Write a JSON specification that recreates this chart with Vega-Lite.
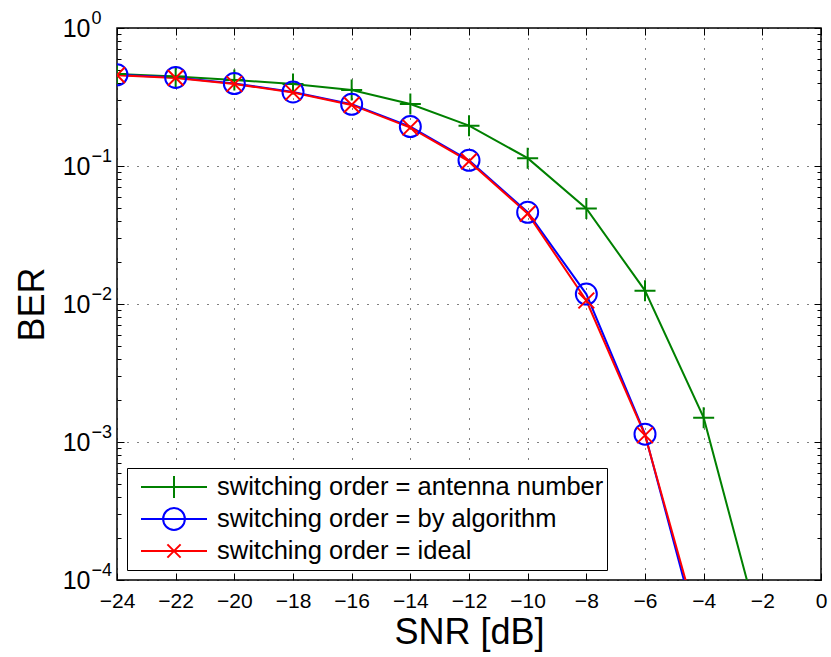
{
  "$schema": "https://vega.github.io/schema/vega-lite/v6.json",
  "width": 704,
  "height": 552,
  "autosize": {"type": "none"},
  "padding": {"left": 117, "top": 28, "right": 10, "bottom": 77},
  "background": "white",
  "config": {
    "font": "Liberation Sans",
    "view": {"stroke": "black", "strokeWidth": 1.5},
    "axis": {
      "domain": false,
      "labelFont": "Liberation Sans",
      "titleFont": "Liberation Sans",
      "titleFontWeight": "normal",
      "labelColor": "black",
      "titleColor": "black",
      "tickColor": "black",
      "tickWidth": 1,
      "gridColor": "black",
      "gridDash": [1, 9],
      "gridWidth": 1
    }
  },
  "data": {
    "values": [
      {"snr": -24, "ber": 0.464, "series": "switching order = antenna number"},
      {"snr": -22, "ber": 0.445, "series": "switching order = antenna number"},
      {"snr": -20, "ber": 0.42, "series": "switching order = antenna number"},
      {"snr": -18, "ber": 0.393, "series": "switching order = antenna number"},
      {"snr": -16, "ber": 0.355, "series": "switching order = antenna number"},
      {"snr": -14, "ber": 0.281, "series": "switching order = antenna number"},
      {"snr": -12, "ber": 0.196, "series": "switching order = antenna number"},
      {"snr": -10, "ber": 0.114, "series": "switching order = antenna number"},
      {"snr": -8, "ber": 0.0493, "series": "switching order = antenna number"},
      {"snr": -6, "ber": 0.0125, "series": "switching order = antenna number"},
      {"snr": -4, "ber": 0.0015, "series": "switching order = antenna number"},
      {"snr": -2, "ber": 0.000038, "series": "switching order = antenna number"},
      {"snr": -24, "ber": 0.458, "series": "switching order = by algorithm"},
      {"snr": -22, "ber": 0.438, "series": "switching order = by algorithm"},
      {"snr": -20, "ber": 0.396, "series": "switching order = by algorithm"},
      {"snr": -18, "ber": 0.344, "series": "switching order = by algorithm"},
      {"snr": -16, "ber": 0.28, "series": "switching order = by algorithm"},
      {"snr": -14, "ber": 0.193, "series": "switching order = by algorithm"},
      {"snr": -12, "ber": 0.11, "series": "switching order = by algorithm"},
      {"snr": -10, "ber": 0.0462, "series": "switching order = by algorithm"},
      {"snr": -8, "ber": 0.0118, "series": "switching order = by algorithm"},
      {"snr": -6, "ber": 0.00114, "series": "switching order = by algorithm"},
      {"snr": -4, "ber": 0.000029, "series": "switching order = by algorithm"},
      {"snr": -24, "ber": 0.455, "series": "switching order = ideal"},
      {"snr": -22, "ber": 0.435, "series": "switching order = ideal"},
      {"snr": -20, "ber": 0.393, "series": "switching order = ideal"},
      {"snr": -18, "ber": 0.341, "series": "switching order = ideal"},
      {"snr": -16, "ber": 0.277, "series": "switching order = ideal"},
      {"snr": -14, "ber": 0.19, "series": "switching order = ideal"},
      {"snr": -12, "ber": 0.108, "series": "switching order = ideal"},
      {"snr": -10, "ber": 0.0452, "series": "switching order = ideal"},
      {"snr": -8, "ber": 0.0106, "series": "switching order = ideal"},
      {"snr": -6, "ber": 0.00112, "series": "switching order = ideal"},
      {"snr": -4, "ber": 0.000034, "series": "switching order = ideal"}
    ]
  },
  "layer": [
    {
      "mark": {"type": "line", "strokeWidth": 2, "clip": true},
      "encoding": {
        "x": {
          "field": "snr", "type": "quantitative",
          "scale": {"domain": [-24, 0], "nice": false, "zero": false},
          "axis": {
            "orient": "bottom",
            "values": [-24, -22, -20, -18, -16, -14, -12, -10, -8, -6, -4, -2, 0],
            "format": "d",
            "tickSize": -7,
            "labelFontSize": 21,
            "labelPadding": 17,
            "labelFlush": false,
            "grid": true,
            "title": "SNR [dB]",
            "titleFontSize": 36,
            "titlePadding": 4
          }
        },
        "y": {
          "field": "ber", "type": "quantitative",
          "scale": {"type": "log", "domain": [0.0001, 1], "nice": false},
          "axis": {
            "orient": "left",
            "values": [0.0001, 0.0002, 0.0003, 0.0004, 0.0005, 0.0006, 0.0007, 0.0008, 0.0009, 0.001, 0.002, 0.003, 0.004, 0.005, 0.006, 0.007, 0.008, 0.009, 0.01, 0.02, 0.03, 0.04, 0.05, 0.06, 0.07, 0.08, 0.09, 0.1, 0.2, 0.3, 0.4, 0.5, 0.6, 0.7, 0.8, 0.9, 1],
            "tickSize": {"condition": {"test": "datum.value == 1 || datum.value == 0.1 || datum.value == 0.01 || datum.value == 0.001 || datum.value == 0.0001", "value": -7}, "value": -4},
            "gridOpacity": {"condition": {"test": "datum.value == 1 || datum.value == 0.1 || datum.value == 0.01 || datum.value == 0.001 || datum.value == 0.0001", "value": 1}, "value": 0},
            "labelExpr": "(datum.value == 1 || datum.value == 0.1 || datum.value == 0.01 || datum.value == 0.001 || datum.value == 0.0001) ? '10' : ''",
            "labelFontSize": 25,
            "labelPadding": 34,
            "labelFlush": false,
            "labelOverlap": false,
            "grid": true,
            "title": "BER",
            "titleFontSize": 36,
            "titlePadding": 11
          }
        },
        "color": {
          "field": "series", "type": "nominal",
          "scale": {
            "domain": ["switching order = antenna number", "switching order = by algorithm", "switching order = ideal"],
            "range": ["#008000", "#0000ff", "#ff0000"]
          },
          "legend": {
            "title": null,
            "orient": "none",
            "legendX": 10,
            "legendY": 440,
            "fillColor": "white",
            "strokeColor": "black",
            "padding": 3,
            "symbolSize": 4356,
            "symbolStrokeWidth": 2,
            "symbolOffset": 10,
            "labelFontSize": 25.5,
            "labelFont": "Liberation Sans",
            "labelColor": "black",
            "labelOffset": 9,
            "labelLimit": 600,
            "clipHeight": 32,
            "rowPadding": 0,
            "encode": {
              "symbols": {
                "update": {
                  "fill": {"value": "transparent"},
                  "shape": {"signal": "datum.value == 'switching order = antenna number' ? 'M-1,0H1M0,-0.33V0.33' : datum.value == 'switching order = by algorithm' ? 'M-1,0H1M0.33,0A0.33,0.33 0 1,1 -0.33,0A0.33,0.33 0 1,1 0.33,0' : 'M-1,0H1M-0.2,-0.2L0.2,0.2M-0.2,0.2L0.2,-0.2'"}
                }
              }
            }
          }
        }
      }
    },
    {
      "transform": [{"filter": "datum.ber >= 0.0001 && datum.series == 'switching order = antenna number'"}],
      "mark": {"type": "point", "filled": false, "strokeWidth": 2, "size": 441, "opacity": 1, "clip": true, "shape": "M-1,0H1M0,-1V1"},
      "encoding": {
        "x": {
          "field": "snr", "type": "quantitative",
          "axis": {
            "orient": "top",
            "values": [-24, -22, -20, -18, -16, -14, -12, -10, -8, -6, -4, -2, 0],
            "tickSize": -7,
            "labels": false,
            "grid": false,
            "title": null
          }
        },
        "y": {
          "field": "ber", "type": "quantitative",
          "axis": {
            "orient": "left",
            "values": [0.0001, 0.001, 0.01, 0.1, 1],
            "ticks": false,
            "grid": false,
            "labelExpr": "datum.value == 1 ? '0' : datum.value == 0.1 ? '−1' : datum.value == 0.01 ? '−2' : datum.value == 0.001 ? '−3' : '−4'",
            "labelAlign": "left",
            "labelBaseline": "alphabetic",
            "labelFontSize": 18,
            "labelPadding": 26,
            "labelOffset": -5,
            "labelFlush": false,
            "labelOverlap": false,
            "title": null
          }
        },
        "color": {"field": "series", "type": "nominal", "legend": null}
      }
    },
    {
      "transform": [{"filter": "datum.ber >= 0.0001 && datum.series == 'switching order = by algorithm'"}],
      "mark": {"type": "point", "filled": false, "strokeWidth": 2, "size": 441, "opacity": 1, "clip": true, "shape": "circle"},
      "encoding": {
        "x": {"field": "snr", "type": "quantitative", "axis": null},
        "y": {
          "field": "ber", "type": "quantitative",
          "axis": {
            "orient": "right",
            "values": [0.0001, 0.0002, 0.0003, 0.0004, 0.0005, 0.0006, 0.0007, 0.0008, 0.0009, 0.001, 0.002, 0.003, 0.004, 0.005, 0.006, 0.007, 0.008, 0.009, 0.01, 0.02, 0.03, 0.04, 0.05, 0.06, 0.07, 0.08, 0.09, 0.1, 0.2, 0.3, 0.4, 0.5, 0.6, 0.7, 0.8, 0.9, 1],
            "tickSize": {"condition": {"test": "datum.value == 1 || datum.value == 0.1 || datum.value == 0.01 || datum.value == 0.001 || datum.value == 0.0001", "value": -7}, "value": -4},
            "labels": false,
            "grid": false,
            "title": null
          }
        },
        "color": {"field": "series", "type": "nominal", "legend": null}
      }
    },
    {
      "transform": [{"filter": "datum.ber >= 0.0001 && datum.series == 'switching order = ideal'"}],
      "mark": {"type": "point", "filled": false, "strokeWidth": 2, "size": 441, "opacity": 1, "clip": true, "shape": "M-0.75,-0.75L0.75,0.75M-0.75,0.75L0.75,-0.75"},
      "encoding": {
        "x": {"field": "snr", "type": "quantitative", "axis": null},
        "y": {"field": "ber", "type": "quantitative", "axis": null},
        "color": {"field": "series", "type": "nominal", "legend": null}
      }
    }
  ],
  "resolve": {"axis": {"x": "independent", "y": "independent"}}
}
